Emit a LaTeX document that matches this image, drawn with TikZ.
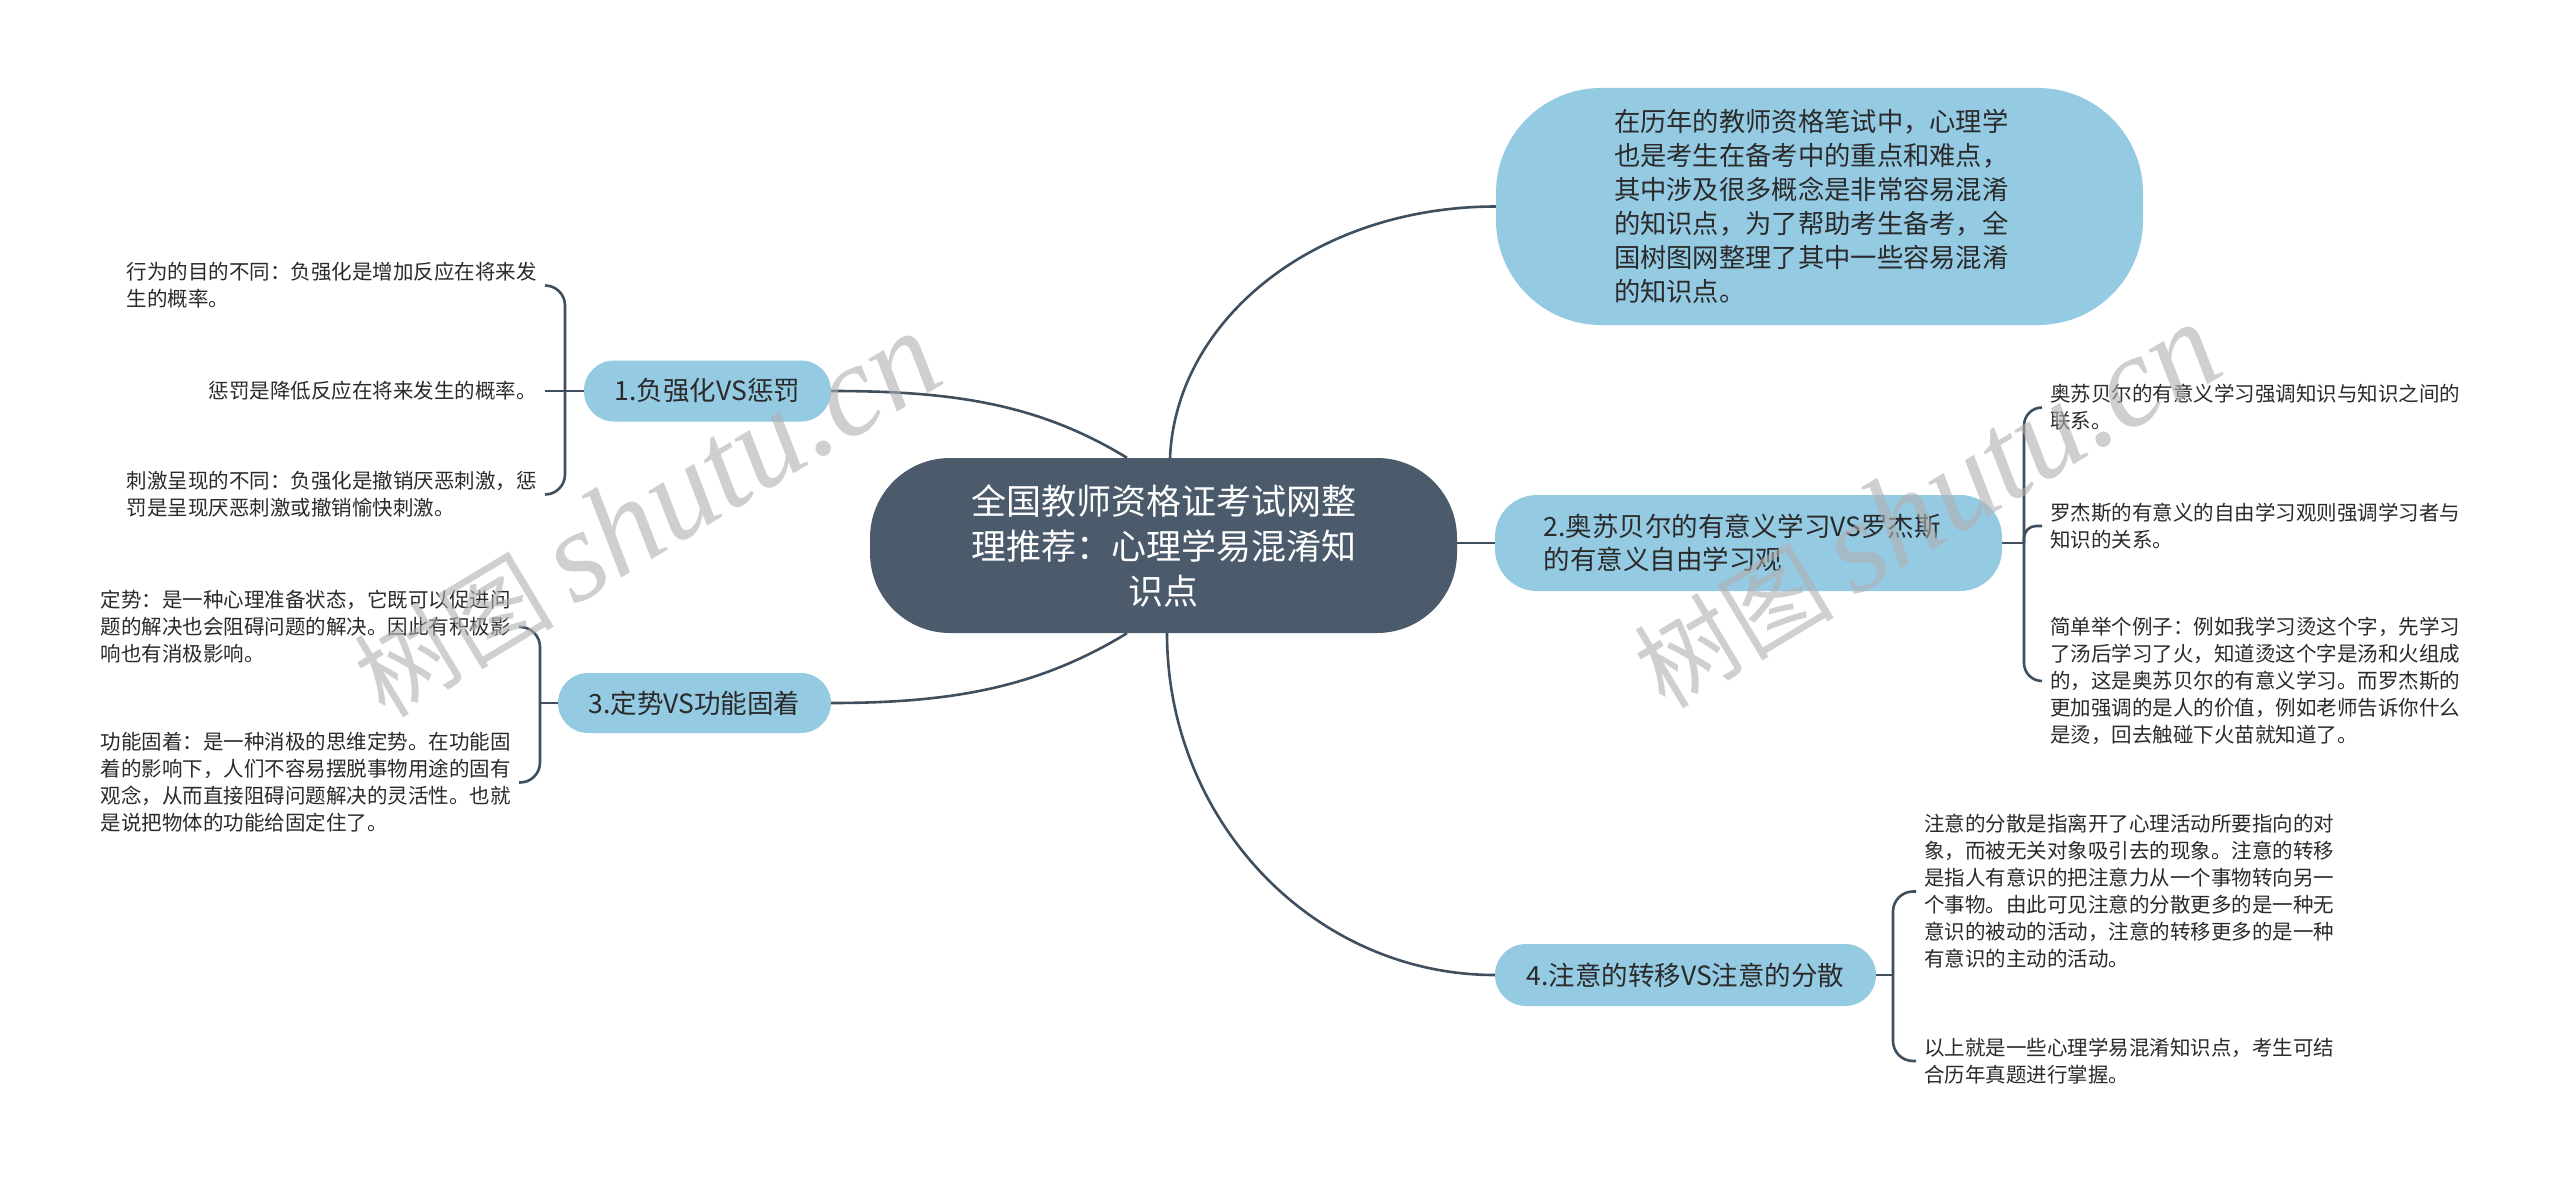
\documentclass[tikz,border=0pt]{standalone}
\usepackage{fontspec}
\setmainfont{Noto Sans CJK SC}
\newfontfamily\wmcjk{Noto Sans CJK SC}
\newfontfamily\wmlat{Liberation Serif}
\usetikzlibrary{backgrounds,calc}
\definecolor{hub}{HTML}{4B5B6B}
\definecolor{topicblue}{HTML}{95CAE3}
\definecolor{edgecol}{HTML}{3F4F5E}
\definecolor{txt}{HTML}{2A2A2A}
\definecolor{wmgray}{HTML}{B0B0B0}
\begin{document}
\begin{tikzpicture}[x=1pt,y=-1pt,
  conn/.style={draw=edgecol,line width=2.6pt},
  hubnode/.style={fill=hub,text=white,rounded corners=80pt,minimum width=587pt,minimum height=175pt,align=center,inner sep=0pt,font=\fontsize{35pt}{45pt}\selectfont},
  topic/.style={fill=topicblue,text=txt,inner sep=0pt,font=\fontsize{26.5pt}{33pt}\selectfont},
  leaf/.style={text=txt,align=left,inner xsep=8pt,inner ysep=2pt,font=\fontsize{20.5pt}{27pt}\selectfont},
  wm/.style={text=wmgray,text opacity=0.6,rotate=31,inner sep=0pt},
]
\useasboundingbox (0,0) rectangle (2560,1185);

% central and main topics
\node[hubnode] (c) at (1163.5,545.5) {全国教师资格证考试网整\\理推荐：心理学易混淆知\\识点};
\node[topic,rounded corners=105pt,minimum width=647pt,minimum height=237pt,text width=411pt,align=left,font=\fontsize{26.3pt}{34pt}\selectfont] (intro) at (1819.5,206.5) {在历年的教师资格笔试中，心理学\\也是考生在备考中的重点和难点，\\其中涉及很多概念是非常容易混淆\\的知识点，为了帮助考生备考，全\\国树图网整理了其中一些容易混淆\\的知识点。};
\node[topic,rounded corners=30pt,minimum width=247pt,minimum height=61pt] (n1) at (707.5,391) {1.负强化VS惩罚};
\node[topic,rounded corners=42pt,minimum width=507pt,minimum height=96pt,text width=410pt,align=left] (n2) at (1748.5,543) {2.奥苏贝尔的有意义学习VS罗杰斯\\的有意义自由学习观};
\node[topic,rounded corners=30pt,minimum width=273pt,minimum height=60pt] (n3) at (694.5,703) {3.定势VS功能固着};
\node[topic,rounded corners=31pt,minimum width=381pt,minimum height=62pt] (n4) at (1685.5,975) {4.注意的转移VS注意的分散};

% leaves of topic 1
\node[leaf,anchor=east] (l1a) at (545,285.5) {行为的目的不同：负强化是增加反应在将来发\\生的概率。};
\node[leaf,anchor=east] (l1b) at (545,391) {惩罚是降低反应在将来发生的概率。};
\node[leaf,anchor=east] (l1c) at (545,494.5) {刺激呈现的不同：负强化是撤销厌恶刺激，惩\\罚是呈现厌恶刺激或撤销愉快刺激。};
% leaves of topic 3
\node[leaf,anchor=east] (l3a) at (519,627) {定势：是一种心理准备状态，它既可以促进问\\题的解决也会阻碍问题的解决。因此有积极影\\响也有消极影响。};
\node[leaf,anchor=east] (l3b) at (519,782.5) {功能固着：是一种消极的思维定势。在功能固\\着的影响下，人们不容易摆脱事物用途的固有\\观念，从而直接阻碍问题解决的灵活性。也就\\是说把物体的功能给固定住了。};
% leaves of topic 2
\node[leaf,anchor=west] (l2a) at (2042,407.5) {奥苏贝尔的有意义学习强调知识与知识之间的\\联系。};
\node[leaf,anchor=west] (l2b) at (2042,526) {罗杰斯的有意义的自由学习观则强调学习者与\\知识的关系。};
\node[leaf,anchor=west] (l2c) at (2042,681) {简单举个例子：例如我学习烫这个字，先学习\\了汤后学习了火，知道烫这个字是汤和火组成\\的，这是奥苏贝尔的有意义学习。而罗杰斯的\\更加强调的是人的价值，例如老师告诉你什么\\是烫，回去触碰下火苗就知道了。};
% leaves of topic 4
\node[leaf,anchor=west] (l4a) at (1916,891.5) {注意的分散是指离开了心理活动所要指向的对\\象，而被无关对象吸引去的现象。注意的转移\\是指人有意识的把注意力从一个事物转向另一\\个事物。由此可见注意的分散更多的是一种无\\意识的被动的活动，注意的转移更多的是一种\\有意识的主动的活动。};
\node[leaf,anchor=west] (l4b) at (1916,1061) {以上就是一些心理学易混淆知识点，考生可结\\合历年真题进行掌握。};

\coordinate (j1) at (565,391);
\coordinate (j3) at (540,703);
\coordinate (j2) at (2024,543);
\coordinate (j4) at (1893,975);
\coordinate (sIntro) at ($(c.north)+(6.5,0)$);
\coordinate (sN1) at ($(c.north)+(-36.5,0)$);
\coordinate (sN3) at ($(c.south)+(-36.5,0)$);
\coordinate (sN4) at ($(c.south)+(3.5,0)$);

\begin{scope}[on background layer]
\fill[white] (0,0) rectangle (2560,1185);
% hub connectors
\draw[conn] (sIntro) .. controls +(6,-139) and +(-180,0) .. (intro.west);
\draw[conn] (sN4) .. controls +(0,188) and +(-181,0) .. (n4.west);
\draw[conn] (sN1) .. controls +(-90,-55) and +(119,0) .. (n1.east);
\draw[conn] (sN3) .. controls +(-90,55) and +(119,0) .. (n3.east);
\draw[conn] (c.east |- n2.west) -- (n2.west);
% brackets topic 1
\draw[conn] (n1.west) -- (j1);
\draw[conn,rounded corners=20pt] (j1) |- (l1a.east);
\draw[conn] (j1) -- (l1b.east);
\draw[conn,rounded corners=20pt] (j1) |- (l1c.east);
% brackets topic 3
\draw[conn] (n3.west) -- (j3);
\draw[conn,rounded corners=20pt] (j3) |- (l3a.east);
\draw[conn,rounded corners=20pt] (j3) |- (l3b.east);
% brackets topic 2
\draw[conn] (n2.east) -- (j2);
\draw[conn,rounded corners=18pt] (j2) |- (l2a.west);
\draw[conn,rounded corners=12pt] (j2) |- (l2b.west);
\draw[conn,rounded corners=18pt] (j2) |- (l2c.west);
% brackets topic 4
\draw[conn] (n4.east) -- (j4);
\draw[conn,rounded corners=20pt] (j4) |- (l4a.west);
\draw[conn,rounded corners=20pt] (j4) |- (l4b.west);
\end{scope}

% watermarks
\node[wm] (wm1) at (646,515) {{\wmcjk\fontsize{100pt}{100pt}\selectfont 树图}\hspace{20pt}{\wmlat\itshape\fontsize{130pt}{130pt}\selectfont shutu.cn}};
\node[wm] (wm2) at (1926,506) {{\wmcjk\fontsize{100pt}{100pt}\selectfont 树图}\hspace{20pt}{\wmlat\itshape\fontsize{130pt}{130pt}\selectfont shutu.cn}};
\end{tikzpicture}
\end{document}
